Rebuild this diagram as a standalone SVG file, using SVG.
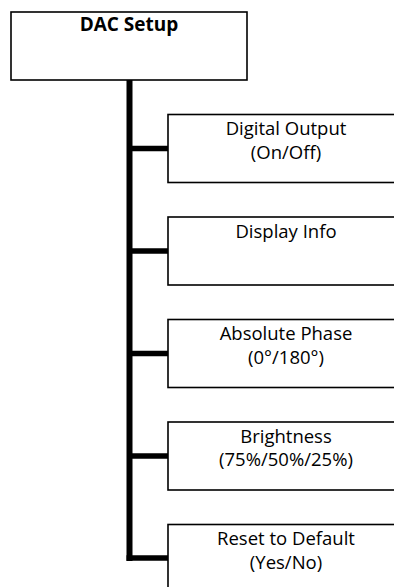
<svg xmlns="http://www.w3.org/2000/svg" width="394" height="587" viewBox="0 0 394 587">
<style>
.box{fill:#fff;stroke:#000;stroke-width:1.6}
.t{font-family:"Open Sans","Noto Sans",sans-serif;font-size:18.5px;fill:#000;text-anchor:middle}
.b{font-weight:bold;font-size:19px}
.c{stroke:#000;fill:none}
</style>
<rect width="394" height="587" fill="#fff"/>
<g id="connectors">
<path class="c" stroke-width="6" d="M129.5 80 V561"/>
<path class="c" stroke-width="5.5" d="M129.5 148.5 H168 M129.5 251 H168 M129.5 353.5 H168 M129.5 456 H168 M126.5 558 H168"/>
</g>
<g id="dac-setup">
<rect class="box" x="11" y="12" width="236" height="68"/>
<text class="t b" x="129" y="31">DAC Setup</text>
</g>
<g id="digital-output">
<rect class="box" x="168" y="114.5" width="236" height="68"/>
<text class="t" x="286" y="135"><tspan x="286">Digital Output</tspan><tspan x="286" dy="23.5">(On/Off)</tspan></text>
</g>
<g id="display-info">
<rect class="box" x="168" y="217" width="236" height="68"/>
<text class="t" x="286" y="238">Display Info</text>
</g>
<g id="absolute-phase">
<rect class="box" x="168" y="319.5" width="236" height="68"/>
<text class="t" x="286" y="340"><tspan x="286">Absolute Phase</tspan><tspan x="286" dy="23.5">(0°/180°)</tspan></text>
</g>
<g id="brightness">
<rect class="box" x="168" y="422" width="236" height="68"/>
<text class="t" x="286" y="442.5"><tspan x="286">Brightness</tspan><tspan x="286" dy="23.5">(75%/50%/25%)</tspan></text>
</g>
<g id="reset-default">
<rect class="box" x="168" y="524.5" width="236" height="68"/>
<text class="t" x="286" y="545"><tspan x="286">Reset to Default</tspan><tspan x="286" dy="23.5">(Yes/No)</tspan></text>
</g>
</svg>
